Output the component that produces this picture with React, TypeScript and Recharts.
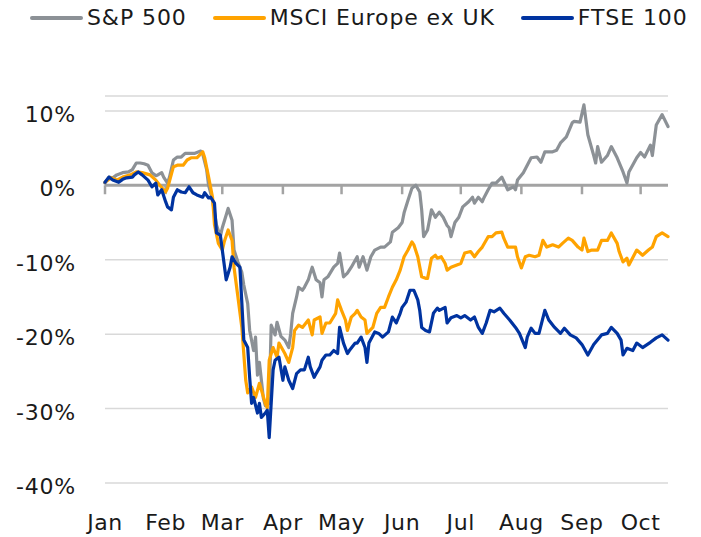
import React from "react";
import { LineChart, Line, XAxis, YAxis, CartesianGrid, ReferenceLine, Legend } from "recharts";

const monthLabels = ["Jan", "Feb", "Mar", "Apr", "May", "Jun", "Jul", "Aug", "Sep", "Oct"];
const monthStartDays = [0, 31, 60, 91, 121, 152, 182, 213, 244, 274];
const yTicks = [-40, -30, -20, -10, 0, 10];
const tickMarkDepth = -1.2;

const seriesNames = ["S&P 500", "MSCI Europe ex UK", "FTSE 100"];
const seriesColors = ["#8c9196", "#ffa300", "#0033a0"];

const spDays = [0,2,4,6,9,12,14,16,18,20,22,24,26,27,29,30,32,33,35,37,39,41,43,46,49,50,52,53,55,57,59,60,62,63,65,66,68,70,71,73,74,76,77,78,79,81,82,84,85,87,88,90,92,94,95,96,98,99,101,102,104,105,106,108,110,111,112,114,117,119,120,122,124,126,129,130,132,134,136,138,141,143,146,147,150,152,153,155,157,159,161,162,163,165,167,169,171,173,175,176,177,179,181,183,186,188,189,191,193,194,196,198,200,203,206,209,210,211,214,218,221,223,225,229,231,233,236,239,240,243,245,247,250,251,252,254,257,259,262,265,267,268,272,274,276,279,280,282,285,288];
const spValues = [0.3,1.1,1.0,1.4,1.7,1.8,2.1,3.0,3.0,2.9,2.7,1.7,1.3,1.4,1.7,1.1,0.3,1.1,3.4,3.8,3.8,4.3,4.3,4.3,4.6,4.2,2.1,0.0,-2.0,-5.3,-6.9,-5.7,-4.0,-3.1,-4.7,-8.7,-10.3,-11.7,-13.4,-15.9,-19.5,-22.2,-20.4,-25.5,-23.8,-28.6,-29.6,-29.3,-18.8,-20.1,-18.4,-20.3,-20.8,-21.8,-19.9,-17.2,-15.0,-13.7,-14.1,-13.7,-12.7,-11.8,-11.0,-12.7,-13.1,-15.0,-12.7,-12.3,-11.0,-10.5,-9.1,-12.3,-11.8,-11.0,-9.6,-11.0,-9.6,-11.4,-9.6,-8.7,-8.3,-8.3,-7.6,-6.3,-5.7,-5.0,-3.7,-2.0,-0.4,0.0,-0.9,-3.3,-6.9,-6.0,-3.3,-4.3,-3.6,-4.3,-5.4,-5.7,-6.9,-5.0,-4.3,-2.9,-2.2,-1.6,-2.4,-1.6,-2.2,-1.6,-0.6,0.3,0.3,1.1,-0.6,-0.2,-0.6,0.7,1.7,3.7,3.8,3.1,4.5,4.5,4.7,5.7,6.5,8.4,8.6,8.5,10.8,6.8,4.0,3.0,5.2,3.1,4.0,5.2,3.7,1.8,0.3,1.8,3.7,4.4,3.8,5.4,4.0,8.1,9.5,7.9];

const euDays = [0,3,6,9,13,16,19,23,26,28,31,32,35,37,40,42,44,47,50,51,53,55,56,58,60,61,63,65,66,68,70,72,73,75,77,79,82,83,84,86,88,89,92,94,96,97,99,101,104,106,107,110,111,113,115,118,119,121,123,124,126,128,129,131,133,134,137,139,141,143,145,147,149,151,153,155,157,158,160,162,164,165,167,169,170,172,174,175,177,180,182,184,187,189,191,193,196,198,200,203,204,206,210,211,213,215,217,220,222,224,226,229,232,234,237,239,242,244,245,247,249,252,254,257,259,262,263,265,267,268,272,275,278,280,282,285,288];
const euValues = [0.4,1.0,0.7,1.1,1.4,1.8,1.7,1.4,0.7,0.0,-0.9,-0.4,2.5,2.7,2.7,3.4,3.7,3.7,4.5,3.7,1.1,-1.6,-5.3,-7.8,-8.7,-7.6,-6.0,-7.4,-11.0,-15.0,-19.1,-26.2,-27.9,-27.1,-28.5,-26.6,-29.3,-29.9,-23.5,-21.8,-23.1,-21.2,-22.6,-23.8,-21.8,-19.5,-18.8,-19.1,-18.1,-20.1,-18.1,-17.7,-19.9,-18.5,-18.5,-17.2,-15.4,-16.8,-18.1,-19.5,-17.7,-17.2,-16.8,-17.7,-18.1,-19.9,-19.1,-17.2,-16.4,-16.4,-15.0,-13.7,-12.7,-11.4,-9.6,-8.7,-7.6,-8.0,-9.6,-12.3,-12.5,-12.5,-9.8,-9.4,-9.8,-9.6,-10.5,-11.4,-11.0,-10.7,-10.5,-9.1,-8.9,-9.6,-8.9,-8.3,-6.9,-6.9,-6.4,-6.3,-7.1,-8.3,-8.3,-9.6,-11.1,-9.6,-9.4,-9.6,-9.4,-7.4,-8.3,-8.0,-8.3,-7.8,-7.1,-7.4,-8.3,-8.7,-7.1,-8.9,-8.7,-8.7,-7.4,-7.4,-6.4,-7.8,-8.9,-10.3,-9.8,-10.7,-8.7,-9.4,-8.7,-8.3,-6.9,-6.4,-6.9];

const ukDays = [0,2,4,7,9,11,14,15,17,19,22,24,26,27,29,31,32,34,35,37,39,41,43,45,47,50,51,53,54,56,57,59,60,62,64,65,67,69,70,71,73,74,75,76,78,79,80,82,83,84,86,87,89,91,92,94,96,98,100,102,104,105,107,108,110,111,113,115,117,119,120,122,124,125,128,129,131,133,134,135,138,140,142,145,147,149,151,152,154,156,158,160,161,162,164,166,168,170,171,174,175,177,180,182,184,187,189,191,193,195,197,199,202,204,207,210,212,215,216,218,220,222,225,227,230,233,235,238,241,244,247,250,254,257,259,262,264,265,267,270,272,275,279,282,285,288];
const ukValues = [0.4,1.1,0.7,0.4,0.8,1.0,1.1,1.4,1.8,1.4,0.7,-0.2,0.3,-1.3,-0.6,-2.2,-2.9,-3.3,-1.6,-0.6,-0.9,-1.0,-0.2,-1.0,-1.3,-1.6,-1.0,-1.7,-1.6,-2.4,-6.4,-6.7,-8.7,-12.7,-11.0,-9.6,-10.5,-11.0,-15.8,-20.8,-21.8,-25.8,-29.3,-28.5,-30.6,-29.3,-31.2,-30.6,-30.2,-33.9,-24.8,-23.5,-23.1,-26.2,-24.4,-26.2,-27.3,-25.3,-24.8,-24.8,-23.1,-24.4,-25.8,-25.3,-24.4,-23.5,-22.8,-22.8,-22.2,-22.6,-19.1,-21.2,-22.6,-22.2,-21.2,-21.2,-20.4,-21.8,-23.8,-21.2,-19.7,-19.9,-20.4,-19.7,-17.7,-18.5,-17.2,-16.4,-15.7,-14.1,-14.1,-15.4,-16.8,-19.1,-19.5,-19.7,-17.2,-16.5,-16.8,-16.4,-18.5,-17.8,-17.5,-17.8,-17.5,-18.1,-17.7,-19.1,-19.9,-18.5,-16.8,-17.0,-16.5,-17.2,-18.1,-19.1,-19.9,-21.8,-20.4,-19.2,-19.9,-19.9,-16.8,-18.1,-19.1,-19.9,-19.2,-20.1,-20.5,-21.4,-22.8,-21.4,-20.1,-19.9,-19.1,-19.9,-20.8,-22.8,-21.9,-22.2,-21.2,-21.8,-21.1,-20.5,-20.1,-20.8];

const toData = (days: number[], values: number[]) => days.map((d, i) => ({ day: d, value: values[i] }));
const seriesData = [toData(spDays, spValues), toData(euDays, euValues), toData(ukDays, ukValues)];

// short vertical tick marks hanging from the zero line at each month start (gaps between them via null)
const tickMarkData: { day: number; value: number | null }[] = [];
monthStartDays.forEach((d) => {
  tickMarkData.push({ day: d, value: 0 });
  tickMarkData.push({ day: d, value: tickMarkDepth });
  tickMarkData.push({ day: d + 0.01, value: null });
});

const FONT = "'DejaVu Sans', sans-serif";
const TEXT = "#1a1a1a";
const AXIS_GREY = "#a3a3a3";

const XTick = (props: any) => {
  const { x, y, payload } = props;
  const idx = monthStartDays.indexOf(payload.value);
  return (
    <text x={x} y={y + 47} textAnchor="middle" fontSize={22} fill={TEXT} fontFamily={FONT} letterSpacing={0.6}>
      {monthLabels[idx]}
    </text>
  );
};

const YTick = (props: any) => {
  const { x, y, payload } = props;
  return (
    <text x={x - 29} y={y + 11} textAnchor="end" fontSize={22} fill={TEXT} fontFamily={FONT} letterSpacing={0.8}>
      {payload.value + "%"}
    </text>
  );
};

const LegendContent = (props: any) => {
  const payload = (props.payload || []).filter((p: any) => seriesNames.includes(p.value));
  payload.sort((a: any, b: any) => seriesNames.indexOf(a.value) - seriesNames.indexOf(b.value));
  return (
    <div style={{ height: 36, width: 701, display: "flex", flexWrap: "nowrap", alignItems: "center", paddingLeft: 30, boxSizing: "border-box", fontFamily: FONT, whiteSpace: "nowrap" }}>
      {payload.map((p: any) => (
        <div key={p.value} style={{ display: "flex", alignItems: "center", marginRight: 26, flexShrink: 0 }}>
          <span style={{ display: "inline-block", width: 53, height: 4, borderRadius: 2, background: p.color, marginRight: 4, flexShrink: 0 }} />
          <span style={{ fontSize: 22, color: TEXT, letterSpacing: 0.9, lineHeight: "36px", whiteSpace: "nowrap" }}>{p.value}</span>
        </div>
      ))}
    </div>
  );
};

export default function App() {
  return (
    <div style={{ position: "absolute", left: 0, top: 0, width: 701, height: 537, background: "#fff", fontFamily: FONT }}>
      <LineChart width={701} height={537} margin={{ top: 60, right: 33, bottom: 0, left: 0 }}>
        <CartesianGrid vertical={false} stroke="#d9d9d9" strokeWidth={1.5} />
        <XAxis
          type="number"
          dataKey="day"
          domain={[0, 288]}
          ticks={monthStartDays}
          axisLine={false}
          tickLine={false}
          tickSize={0}
          tickMargin={0}
          height={54}
          interval={0}
          tick={<XTick />}
          allowDuplicatedCategory={false}
        />
        <YAxis
          type="number"
          domain={[-40, 12]}
          ticks={yTicks}
          axisLine={false}
          tickLine={false}
          tickSize={0}
          tickMargin={0}
          width={105}
          interval={0}
          tick={<YTick />}
        />
        <ReferenceLine y={0} stroke={AXIS_GREY} strokeWidth={3} />
        <Line
          data={tickMarkData}
          dataKey="value"
          name="month ticks"
          legendType="none"
          stroke={AXIS_GREY}
          strokeWidth={2.5}
          dot={false}
          activeDot={false}
          connectNulls={false}
          isAnimationActive={false}
          type="linear"
        />
        <Legend verticalAlign="top" align="left" content={<LegendContent />} wrapperStyle={{ top: 0, left: 0, width: 701, margin: 0, padding: 0 }} />
        {seriesData.map((data, i) => (
          <Line
            key={seriesNames[i]}
            data={data}
            dataKey="value"
            name={seriesNames[i]}
            stroke={seriesColors[i]}
            strokeWidth={3.2}
            dot={false}
            activeDot={false}
            isAnimationActive={false}
            strokeLinejoin="round"
            strokeLinecap="round"
          />
        ))}
      </LineChart>
    </div>
  );
}
